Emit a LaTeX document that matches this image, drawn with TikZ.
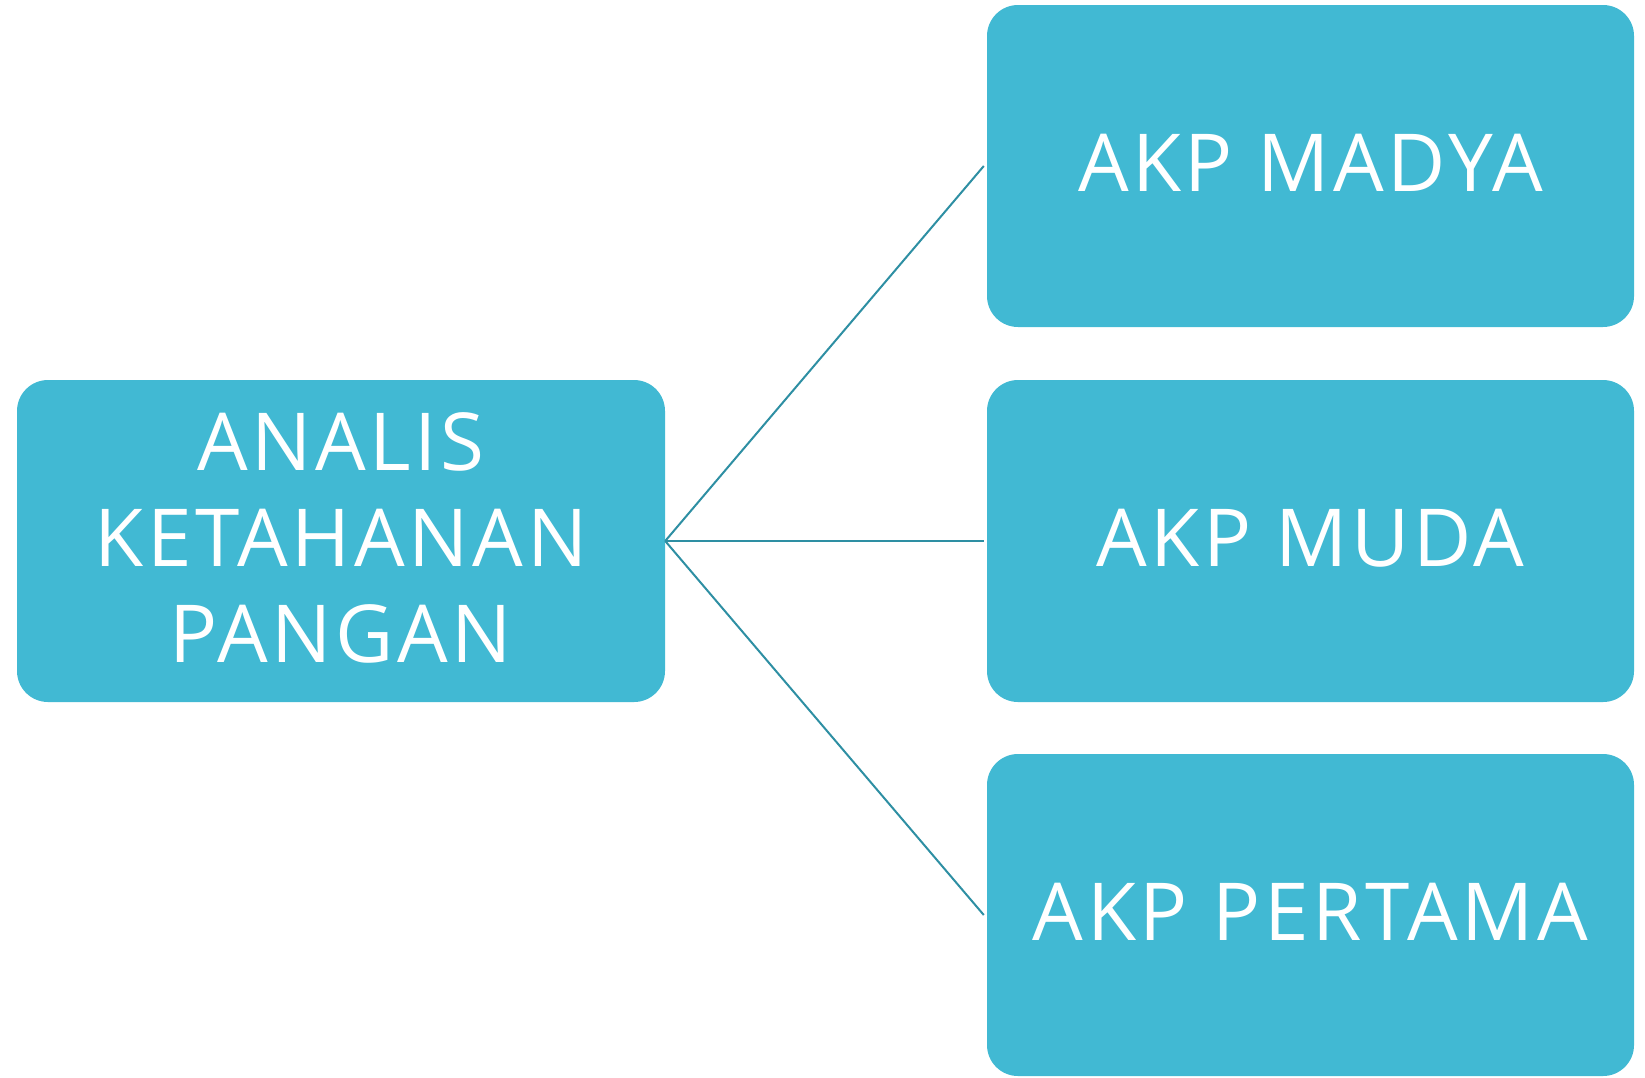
\documentclass[tikz,border=0pt]{standalone}
\usepackage{fontspec}
\setmainfont[LetterSpace=4.5]{Open Sans}
\definecolor{boxfill}{HTML}{41B9D3}
\definecolor{linkcol}{HTML}{2E8FA3}
\begin{document}
\begin{tikzpicture}[x=1pt,y=-1pt,
  box/.style={fill=boxfill,draw=none,rounded corners=31pt,minimum width=647pt,minimum height=322pt,inner sep=0pt},
  boxtext/.style={text=white,align=center,font=\fontsize{80}{96}\selectfont,inner sep=0pt},
  link/.style={draw=linkcol,line width=2pt}]
\useasboundingbox (0,0) rectangle (1645,1077);
\node[box,minimum width=648pt] (root) at (341,541) {};
\node[box] (madya) at (1310.5,166) {};
\node[box] (muda) at (1310.5,541) {};
\node[box] (pertama) at (1310.5,915) {};
\node[boxtext] (rootT) at ([yshift=3pt]root.center) {ANALIS\\KETAHANAN\\PANGAN};
\node[boxtext] (madyaT) at ([yshift=3pt]madya.center) {AKP MADYA};
\node[boxtext] (mudaT) at ([yshift=3pt]muda.center) {AKP MUDA};
\node[boxtext] (pertamaT) at ([yshift=3pt]pertama.center) {AKP PERTAMA};
\coordinate (hub) at (root.east);
\draw[link] (hub) -- ([xshift=-3pt]madya.west);
\draw[link] (hub) -- ([xshift=-3pt]muda.west);
\draw[link] (hub) -- ([xshift=-3pt]pertama.west);
\end{tikzpicture}
\end{document}
